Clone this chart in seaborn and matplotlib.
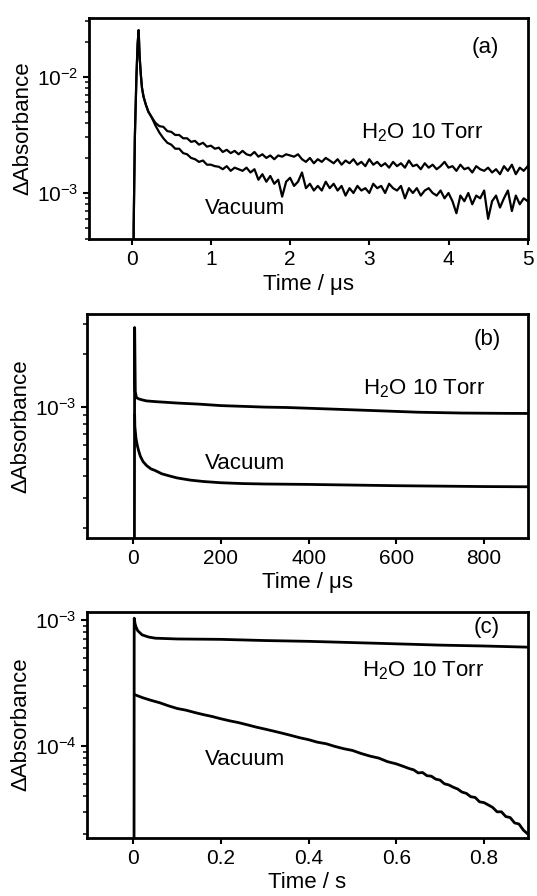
import numpy as np
import pandas as pd
import matplotlib
matplotlib.use("Agg")
import matplotlib.pyplot as plt
import seaborn as sns
from matplotlib.ticker import LogLocator, NullFormatter

# ---------------- data ----------------
# Panel (a): time in microseconds, absorbance in units of 1e-3
a_head_t = [0.020, 0.025, 0.04, 0.06, 0.075, 0.088, 0.10, 0.115, 0.13, 0.15, 0.18, 0.21, 0.25]
a_head_v = [0.05, 0.5, 3.0, 10.0, 19.0, 25.0, 15.0, 10.5, 8.0, 6.7, 5.7, 5.0, 4.5]
a_tail_t0 = 0.30
a_tail_dt = 0.05
a_h2o = [4.0, 3.75, 3.7, 3.4, 3.35, 3.15, 3.15, 2.95, 2.95, 2.75, 2.8, 2.6, 2.7, 2.5, 2.55,
         2.4, 2.45, 2.25, 2.35, 2.2, 2.3, 2.15, 2.3, 2.15, 2.1, 2.25, 2.05, 2.15, 2.0, 2.1,
         1.95, 2.1, 2.05, 2.15, 2.1, 2.05, 2.15, 1.95, 1.85, 2.0, 1.8, 1.95, 1.85, 2.0, 1.9,
         1.8, 1.95, 1.75, 1.9, 1.8, 1.95, 1.75, 1.85, 1.7, 1.95, 1.75, 1.85, 1.7, 1.8, 1.65,
         1.85, 1.7, 1.8, 1.65, 1.9, 1.7, 1.75, 1.6, 1.8, 1.65, 1.75, 1.6, 1.7, 1.85, 1.65,
         1.7, 1.55, 1.75, 1.6, 1.65, 1.5, 1.7, 1.6, 1.55, 1.65, 1.5, 1.6, 1.45, 1.7, 1.55,
         1.75, 1.45, 1.65, 1.55, 1.7]
a_vac = [3.8, 3.3, 2.95, 2.7, 2.6, 2.4, 2.4, 2.2, 2.15, 2.0, 1.95, 1.85, 1.9, 1.75, 1.75,
         1.7, 1.68, 1.6, 1.7, 1.55, 1.65, 1.6, 1.55, 1.65, 1.5, 1.6, 1.3, 1.45, 1.25, 1.4,
         1.2, 1.3, 0.93, 1.25, 1.35, 1.15, 1.25, 1.5, 1.1, 1.2, 1.05, 1.15, 1.05, 1.25, 1.1,
         1.2, 1.05, 1.15, 0.95, 1.1, 1.0, 1.15, 1.05, 1.1, 1.0, 1.2, 1.1, 1.15, 1.0, 1.2,
         1.1, 1.05, 1.15, 0.9, 1.1, 1.0, 1.1, 0.95, 1.05, 1.1, 1.0, 0.95, 1.05, 0.9, 1.0,
         0.85, 0.67, 0.95, 0.85, 1.0, 0.8, 0.95, 0.9, 1.05, 0.6, 0.85, 0.95, 0.75, 0.9, 1.05,
         0.7, 0.95, 0.8, 0.9, 0.85]

# Panel (b): time in microseconds, absorbance in units of 1e-3
b_h2o_t = [2.0, 3.0, 4.5, 7, 12, 20, 30, 50, 75, 100, 150, 200, 250, 300, 350, 400, 450,
           500, 550, 600, 650, 700, 750, 800, 850, 900]
b_h2o_v = [0.01, 2.85, 1.22, 1.13, 1.11, 1.095, 1.08, 1.07, 1.06, 1.05, 1.035, 1.015, 1.005,
           0.995, 0.99, 0.98, 0.97, 0.96, 0.95, 0.94, 0.93, 0.925, 0.92, 0.918, 0.916, 0.915]
b_vac_t = [3.0, 3.5, 6, 9, 12, 16, 22, 30, 40, 50, 65, 80, 100, 130, 160, 200, 250, 300,
           400, 500, 600, 700, 800, 900]
b_vac_v = [0.9, 0.77, 0.66, 0.60, 0.56, 0.52, 0.485, 0.46, 0.44, 0.43, 0.412, 0.402, 0.39,
           0.379, 0.372, 0.366, 0.362, 0.36, 0.358, 0.355, 0.352, 0.35, 0.348, 0.347]

# Panel (c): time in seconds, absorbance in units of 1e-4
c_h2o_t = [0.0015, 0.002, 0.004, 0.006, 0.01, 0.02, 0.035, 0.05, 0.1, 0.2, 0.3, 0.4, 0.5,
           0.6, 0.7, 0.8, 0.9]
c_h2o_v = [0.05, 10.3, 9.3, 8.8, 8.2, 7.6, 7.3, 7.15, 7.05, 7.0, 6.85, 6.75, 6.6, 6.45,
           6.3, 6.2, 6.07]
c_vac_t = [0.003, 0.02, 0.04, 0.06, 0.08, 0.10, 0.12, 0.14, 0.16, 0.18, 0.20, 0.22, 0.24,
           0.26, 0.28, 0.30, 0.32, 0.34, 0.36, 0.38, 0.40, 0.42, 0.44, 0.46, 0.48, 0.50,
           0.52, 0.54, 0.56, 0.58, 0.60, 0.61, 0.62, 0.63, 0.64, 0.65, 0.66, 0.67, 0.68,
           0.69, 0.70, 0.71, 0.72, 0.73, 0.74, 0.75, 0.76, 0.77, 0.78, 0.79, 0.80, 0.81,
           0.82, 0.83, 0.84, 0.85, 0.86, 0.87, 0.88, 0.89, 0.90]
c_vac_v = [2.55, 2.42, 2.3, 2.2, 2.08, 1.98, 1.92, 1.84, 1.77, 1.71, 1.64, 1.58, 1.53,
           1.47, 1.41, 1.36, 1.31, 1.26, 1.21, 1.16, 1.12, 1.07, 1.04, 0.99, 0.95, 0.92,
           0.87, 0.83, 0.80, 0.75, 0.72, 0.70, 0.68, 0.66, 0.645, 0.61, 0.615, 0.58, 0.575,
           0.545, 0.535, 0.50, 0.49, 0.47, 0.455, 0.43, 0.42, 0.395, 0.39, 0.36, 0.355,
           0.34, 0.325, 0.30, 0.30, 0.275, 0.27, 0.245, 0.24, 0.215, 0.20]

a_xticks = [0, 1, 2, 3, 4, 5]
a_xticklabels = ["0", "1", "2", "3", "4", "5"]
b_xticks = [0, 200, 400, 600, 800]
b_xticklabels = ["0", "200", "400", "600", "800"]
c_xticks = [0, 0.2, 0.4, 0.6, 0.8]
c_xticklabels = ["0", "0.2", "0.4", "0.6", "0.8"]
a_yticks = [1e-2, 1e-3]
a_yticklabels = [r"$10^{-2}$", r"$10^{-3}$"]
b_yticks = [1e-3]
b_yticklabels = [r"$10^{-3}$"]
c_yticks = [1e-3, 1e-4]
c_yticklabels = [r"$10^{-3}$", r"$10^{-4}$"]

# ---------------- build tables ----------------
a_tail_t = list(a_tail_t0 + a_tail_dt * np.arange(len(a_h2o)))
df_a = pd.concat([
    pd.DataFrame({"t": a_head_t + a_tail_t, "A": np.array(a_head_v + a_h2o) * 1e-3, "s": "H2O"}),
    pd.DataFrame({"t": a_head_t + a_tail_t, "A": np.array(a_head_v + a_vac) * 1e-3, "s": "Vac"}),
], ignore_index=True)
df_b = pd.concat([
    pd.DataFrame({"t": b_h2o_t, "A": np.array(b_h2o_v) * 1e-3, "s": "H2O"}),
    pd.DataFrame({"t": b_vac_t, "A": np.array(b_vac_v) * 1e-3, "s": "Vac"}),
], ignore_index=True)
df_c = pd.concat([
    pd.DataFrame({"t": c_h2o_t, "A": np.array(c_h2o_v) * 1e-4, "s": "H2O"}),
    pd.DataFrame({"t": c_vac_t, "A": np.array(c_vac_v) * 1e-4, "s": "Vac"}),
], ignore_index=True)

# ---------------- style ----------------
sns.set_theme(style="ticks")
plt.rcParams["font.family"] = ["Liberation Sans", "DejaVu Sans"]
plt.rcParams["mathtext.fontset"] = "custom"
plt.rcParams["mathtext.rm"] = "Liberation Sans"
plt.rcParams["mathtext.it"] = "Liberation Sans:italic"
plt.rcParams["mathtext.bf"] = "Liberation Sans:bold"
plt.rcParams["mathtext.sf"] = "Liberation Sans"
plt.rcParams["axes.unicode_minus"] = False

fig = plt.figure(figsize=(5.37, 8.96), dpi=100, facecolor="white")

panels = [
    dict(df=df_a, rect=[0.1663, 0.7329, 0.8164, 0.2473], xlim=(-0.535, 5.0), ylim=(4.0e-4, 3.2e-2),
         xt=a_xticks, xtl=a_xticklabels, yt=a_yticks, ytl=a_yticklabels, xlabel="Time / μs",
         tag="(a)", tagpos=(0.904, 0.866), h2o=(0.62, 0.48), vac=(0.263, 0.137), lw=1.6),
    dict(df=df_b, rect=[0.1626, 0.3999, 0.8201, 0.2497], xlim=(-105, 900), ylim=(1.77e-4, 3.41e-3),
         xt=b_xticks, xtl=b_xticklabels, yt=b_yticks, ytl=b_yticklabels, xlabel="Time / μs",
         tag="(b)", tagpos=(0.908, 0.884), h2o=(0.625, 0.668), vac=(0.267, 0.332), lw=2.0),
    dict(df=df_c, rect=[0.1626, 0.0651, 0.8201, 0.2522], xlim=(-0.105, 0.9), ylim=(1.87e-5, 1.16e-3),
         xt=c_xticks, xtl=c_xticklabels, yt=c_yticks, ytl=c_yticklabels, xlabel="Time / s",
         tag="(c)", tagpos=(0.906, 0.928), h2o=(0.623, 0.741), vac=(0.266, 0.344), lw=2.0),
]

for p in panels:
    ax = fig.add_axes(p["rect"])
    sns.lineplot(data=p["df"], x="t", y="A", units="s", estimator=None, sort=False,
                 color="black", lw=p["lw"], ax=ax, legend=False)
    ax.set_yscale("log")
    ax.set_xlim(*p["xlim"])
    ax.set_ylim(*p["ylim"])
    ax.set_xticks(p["xt"], labels=p["xtl"])
    ax.set_yticks(p["yt"], labels=p["ytl"])
    ax.yaxis.set_minor_locator(LogLocator(base=10, subs=np.arange(2, 10), numticks=20))
    ax.yaxis.set_minor_formatter(NullFormatter())
    ax.tick_params(axis="both", which="major", direction="out", length=4, width=1.5,
                   labelsize=15, pad=4, colors="black")
    ax.tick_params(axis="y", which="minor", direction="out", length=3, width=1.3)
    ax.tick_params(axis="x", which="minor", bottom=False)
    for sp in ax.spines.values():
        sp.set_linewidth(2.0)
        sp.set_color("black")
    ax.set_xlabel(p["xlabel"], fontsize=16, color="black", labelpad=3)
    ax.set_ylabel("ΔAbsorbance", fontsize=16, color="black")
    ax.yaxis.set_label_coords(-0.128, 0.5)
    ax.text(*p["tagpos"], p["tag"], transform=ax.transAxes, ha="center", va="center",
            fontsize=16, color="black")
    ax.text(*p["h2o"], r"H$_2$O 10 Torr", transform=ax.transAxes, ha="left", va="center",
            fontsize=16, color="black")
    ax.text(*p["vac"], "Vacuum", transform=ax.transAxes, ha="left", va="center",
            fontsize=16, color="black")
    ax.set_facecolor("white")

fig.savefig("out.png", dpi=100, facecolor="white")
